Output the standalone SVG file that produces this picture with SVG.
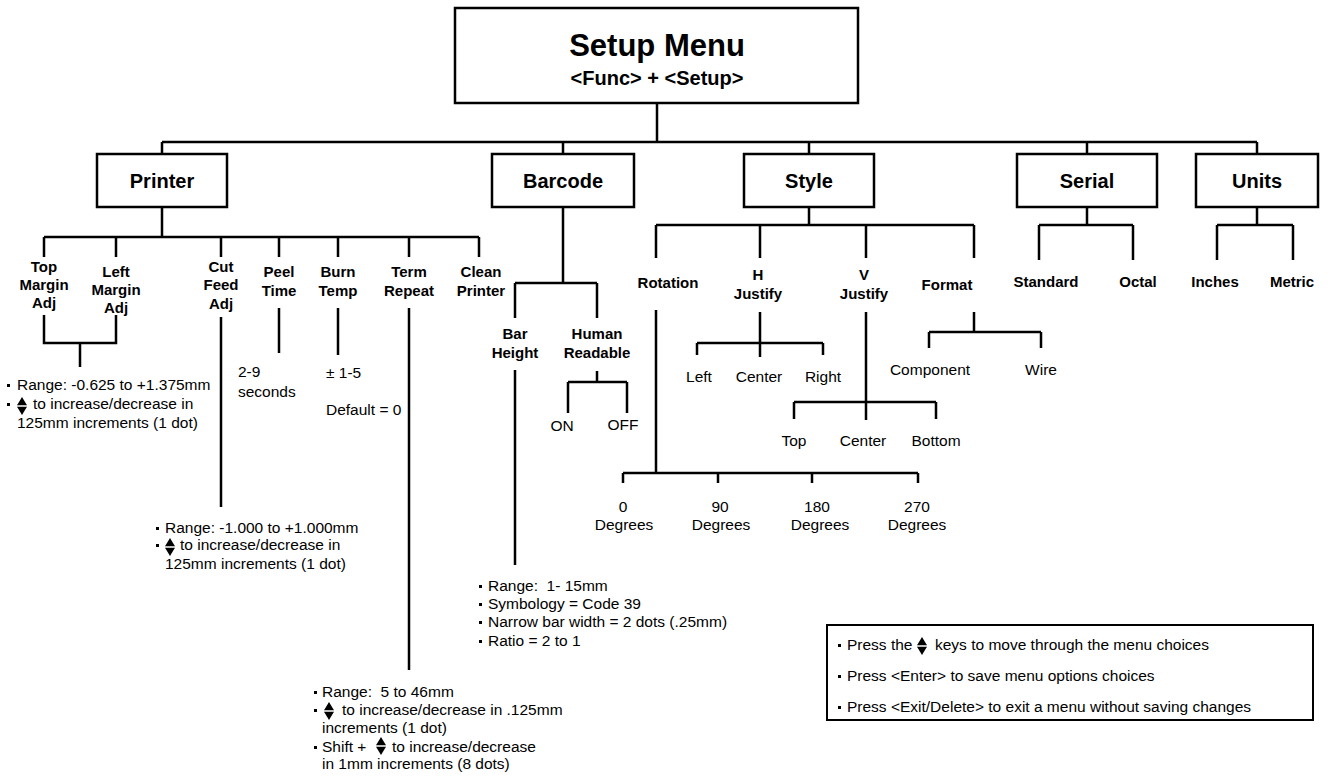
<svg xmlns="http://www.w3.org/2000/svg" xmlns:xlink="http://www.w3.org/1999/xlink" width="1328" height="780" viewBox="0 0 1328 780">
<style>
.ln{stroke:#000;stroke-width:2.5;fill:none}
.bx{fill:#fff;stroke:#000;stroke-width:2.5}
.bt{font-family:"Liberation Sans",Arial,sans-serif;font-weight:bold;font-size:20px;text-anchor:middle;fill:#000}
.lb{font-family:"Liberation Sans",Arial,sans-serif;font-weight:bold;font-size:15px;text-anchor:middle;fill:#000}
.tx{font-family:"Liberation Sans",Arial,sans-serif;font-size:15.5px;fill:#000;white-space:pre}
.tm{text-anchor:middle}
.bu{fill:#000}
</style>
<defs>
<symbol id="ud" viewBox="0 0 10 18"><polygon points="0,8.3 5,0 10,8.3" fill="#000"/><polygon points="0,9.7 5,18 10,9.7" fill="#000"/></symbol>
</defs>
<rect width="1328" height="780" fill="#fff"/>
<g id="connectors">
<path class="ln" d="M657 103V142M162 142H1257M162 142V154M563 142V154M809 142V154M1087 142V154M1257 142V154"/>
<path class="ln" d="M162 207V237M44 237H479M44 237V257M116 237V257M221 237V257M279 237V257M338 237V257M409 237V257M479 237V257"/>
<path class="ln" d="M44 315V343H116V315M80 343V367M221 317V507M279 308V353M338 308V355M409 308V670"/>
<path class="ln" d="M563 207V283M515 283H597M515 283V318M597 283V318M515 370V565M597 371V382M568 382H627M568 382V413M627 382V413"/>
<path class="ln" d="M809 207V225M656 225H974M656 225V258M760 225V258M866 225V258M974 225V258"/>
<path class="ln" d="M656 310V473M623 473H918M623 473V483M718 473V483M812 473V483M918 473V483"/>
<path class="ln" d="M760 312V357M697 343H823M697 343V355M823 343V355M866 312V420M794 402H936M794 402V419M936 402V419M974 312V332M929 332H1041M929 332V348M1041 332V348"/>
<path class="ln" d="M1087 207V225M1039 225H1133M1039 225V260M1133 225V260M1257 207V225M1217 225H1293M1217 225V260M1293 225V260"/>
</g>
<g id="setup">
<rect class="bx" x="455" y="8" width="403" height="95"/>
<text class="bt" x="657" y="56" style="font-size:31px">Setup Menu</text>
<text class="bt" x="657" y="85">&lt;Func&gt; + &lt;Setup&gt;</text>
</g>
<g id="printer"><rect class="bx" x="97" y="154" width="130" height="53"/><text class="bt" x="162" y="188">Printer</text></g>
<g id="barcode"><rect class="bx" x="492" y="154" width="142" height="53"/><text class="bt" x="563" y="188">Barcode</text></g>
<g id="style"><rect class="bx" x="744" y="154" width="130" height="53"/><text class="bt" x="809" y="188">Style</text></g>
<g id="serial"><rect class="bx" x="1017" y="154" width="140" height="53"/><text class="bt" x="1087" y="188">Serial</text></g>
<g id="units"><rect class="bx" x="1196" y="154" width="122" height="53"/><text class="bt" x="1257" y="188">Units</text></g>
<g id="top-margin"><text class="lb" x="44" y="272">Top</text><text class="lb" x="44" y="290">Margin</text><text class="lb" x="44" y="308">Adj</text></g>
<g id="left-margin"><text class="lb" x="116" y="277">Left</text><text class="lb" x="116" y="295">Margin</text><text class="lb" x="116" y="313">Adj</text></g>
<g id="cut-feed"><text class="lb" x="221" y="272">Cut</text><text class="lb" x="221" y="290">Feed</text><text class="lb" x="221" y="309">Adj</text></g>
<g id="peel-time"><text class="lb" x="279" y="277">Peel</text><text class="lb" x="279" y="296">Time</text></g>
<g id="burn-temp"><text class="lb" x="338" y="277">Burn</text><text class="lb" x="338" y="296">Temp</text></g>
<g id="term-repeat"><text class="lb" x="409" y="277">Term</text><text class="lb" x="409" y="296">Repeat</text></g>
<g id="clean-printer"><text class="lb" x="481" y="277">Clean</text><text class="lb" x="481" y="296">Printer</text></g>
<g id="margin-info">
<rect class="bu" x="7" y="384" width="3" height="3"/><text class="tx" x="17" y="390">Range: -0.625 to +1.375mm</text>
<rect class="bu" x="7" y="403" width="3" height="3"/><use xlink:href="#ud" x="17" y="397" width="10" height="18"/><text class="tx" x="33" y="409">to increase/decrease in</text>
<text class="tx" x="17" y="428">125mm increments (1 dot)</text>
</g>
<g id="cut-info">
<rect class="bu" x="156" y="527" width="3" height="3"/><text class="tx" x="165" y="533">Range: -1.000 to +1.000mm</text>
<rect class="bu" x="156" y="544" width="3" height="3"/><use xlink:href="#ud" x="165" y="538" width="10" height="18"/><text class="tx" x="180" y="550">to increase/decrease in</text>
<text class="tx" x="165" y="569">125mm increments (1 dot)</text>
</g>
<g id="peel-info"><text class="tx" x="238" y="377">2-9</text><text class="tx" x="238" y="397">seconds</text></g>
<g id="burn-info"><text class="tx" x="326" y="378">± 1-5</text><text class="tx" x="326" y="415">Default = 0</text></g>
<g id="term-info">
<rect class="bu" x="314" y="691" width="3" height="3"/><text class="tx" x="322" y="697">Range:  5 to 46mm</text>
<rect class="bu" x="314" y="709" width="3" height="3"/><use xlink:href="#ud" x="324" y="702" width="10" height="18"/><text class="tx" x="342" y="715">to increase/decrease in .125mm</text>
<text class="tx" x="322" y="733">increments (1 dot)</text>
<rect class="bu" x="314" y="746" width="3" height="3"/><text class="tx" x="322" y="752">Shift +</text><use xlink:href="#ud" x="376" y="737" width="10" height="18"/><text class="tx" x="392" y="752">to increase/decrease</text>
<text class="tx" x="322" y="769">in 1mm increments (8 dots)</text>
</g>
<g id="bar-height"><text class="lb" x="515" y="339">Bar</text><text class="lb" x="515" y="358">Height</text></g>
<g id="human-readable"><text class="lb" x="597" y="339">Human</text><text class="lb" x="597" y="358">Readable</text></g>
<g id="on"><text class="tx tm" x="562" y="431">ON</text></g>
<g id="off"><text class="tx tm" x="623" y="430">OFF</text></g>
<g id="bar-info">
<rect class="bu" x="479" y="585" width="3" height="3"/><text class="tx" x="488" y="591">Range:  1- 15mm</text>
<rect class="bu" x="479" y="603" width="3" height="3"/><text class="tx" x="488" y="609">Symbology = Code 39</text>
<rect class="bu" x="479" y="621" width="3" height="3"/><text class="tx" x="488" y="627">Narrow bar width = 2 dots (.25mm)</text>
<rect class="bu" x="479" y="640" width="3" height="3"/><text class="tx" x="488" y="646">Ratio = 2 to 1</text>
</g>
<g id="rotation"><text class="lb" x="668" y="288">Rotation</text></g>
<g id="h-justify"><text class="lb" x="758" y="280">H</text><text class="lb" x="758" y="299">Justify</text></g>
<g id="v-justify"><text class="lb" x="864" y="280">V</text><text class="lb" x="864" y="299">Justify</text></g>
<g id="format"><text class="lb" x="947" y="290">Format</text></g>
<g id="h-left"><text class="tx tm" x="699" y="382">Left</text></g>
<g id="h-center"><text class="tx tm" x="759" y="382">Center</text></g>
<g id="h-right"><text class="tx tm" x="823" y="382">Right</text></g>
<g id="v-top"><text class="tx tm" x="794" y="446">Top</text></g>
<g id="v-center"><text class="tx tm" x="863" y="446">Center</text></g>
<g id="v-bottom"><text class="tx tm" x="936" y="446">Bottom</text></g>
<g id="component"><text class="tx tm" x="930" y="375">Component</text></g>
<g id="wire"><text class="tx tm" x="1041" y="375">Wire</text></g>
<g id="deg0"><text class="tx tm" x="623" y="512">0</text><text class="tx tm" x="624" y="530">Degrees</text></g>
<g id="deg90"><text class="tx tm" x="720" y="512">90</text><text class="tx tm" x="721" y="530">Degrees</text></g>
<g id="deg180"><text class="tx tm" x="817" y="512">180</text><text class="tx tm" x="820" y="530">Degrees</text></g>
<g id="deg270"><text class="tx tm" x="917" y="512">270</text><text class="tx tm" x="917" y="530">Degrees</text></g>
<g id="standard"><text class="lb" x="1046" y="287">Standard</text></g>
<g id="octal"><text class="lb" x="1138" y="287">Octal</text></g>
<g id="inches"><text class="lb" x="1215" y="287">Inches</text></g>
<g id="metric"><text class="lb" x="1292" y="287">Metric</text></g>
<g id="legend">
<rect class="bx" x="827" y="625" width="486" height="95" style="stroke-width:2"/>
<rect class="bu" x="838" y="644" width="3" height="3"/><text class="tx" x="847" y="650">Press the</text><use xlink:href="#ud" x="917" y="637" width="10" height="18"/><text class="tx" x="935" y="650">keys to move through the menu choices</text>
<rect class="bu" x="838" y="675" width="3" height="3"/><text class="tx" x="847" y="681">Press &lt;Enter&gt; to save menu options choices</text>
<rect class="bu" x="838" y="706" width="3" height="3"/><text class="tx" x="847" y="712">Press &lt;Exit/Delete&gt; to exit a menu without saving changes</text>
</g>
</svg>
